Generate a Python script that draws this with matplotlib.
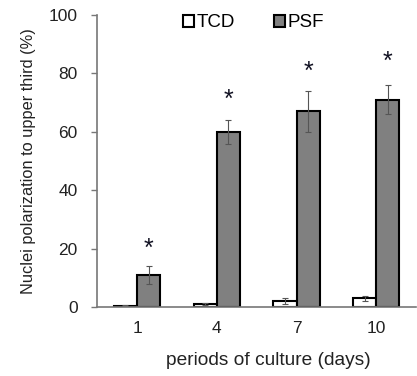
import numpy as np
import matplotlib
matplotlib.use("Agg")
import matplotlib.pyplot as plt

plt.rcParams['font.family'] = ['Liberation Sans', 'DejaVu Sans']

# data
days = ["1", "4", "7", "10"]
tcd = [0.5, 1.0, 2.0, 3.0]
tcd_err = [0.2, 0.4, 1.0, 1.0]
psf = [11, 60, 67, 71]
psf_err = [3, 4, 7, 5]
star_y = [20, 71, 80.5, 84]

fig = plt.figure(figsize=(4.17, 3.76), dpi=100)
ax = fig.add_axes([0.233, 0.183, 0.765, 0.777])

x = np.arange(len(days))
w = 0.29
ax.bar(x - w / 2, tcd, w, yerr=tcd_err, color="white", edgecolor="black",
       linewidth=1.5, label="TCD", ecolor="#555555", capsize=2,
       error_kw={"elinewidth": 0.8, "capthick": 0.8})
ax.bar(x + w / 2, psf, w, yerr=psf_err, color="#808080", edgecolor="black",
       linewidth=1.5, label="PSF", ecolor="#555555", capsize=2,
       error_kw={"elinewidth": 0.8, "capthick": 0.8})

for xi, yi in zip(x, star_y):
    ax.text(xi + w / 2, yi, "*", ha="center", va="center", fontsize=18,
            color="#111122")

ax.set_xlim(-0.5, 3.5)
ax.set_ylim(0, 100)
ax.set_yticks([0, 20, 40, 60, 80, 100])
ax.set_xticks(x)
ax.set_xticklabels(days)
ax.tick_params(axis="x", length=0, labelsize=12.5, colors="#222222", pad=10)
ax.tick_params(axis="y", length=4, width=1, color="#777777", labelsize=12.5,
               labelcolor="#222222", pad=10)
for s in ["top", "right"]:
    ax.spines[s].set_visible(False)
for s in ["left", "bottom"]:
    ax.spines[s].set_color("#777777")
    ax.spines[s].set_linewidth(1.2)

ax.set_ylabel("Nuclei polarization to upper third (%)", fontsize=11.8,
              color="#222222", labelpad=9)
ax.set_xlabel("periods of culture (days)", fontsize=13.8, color="#222222")
ax.xaxis.set_label_coords(0.537, -0.155)

ax.legend(loc="upper center", bbox_to_anchor=(0.49, 1.06), ncol=2,
          frameon=False, fontsize=13.5, handlelength=0.6, handleheight=0.6,
          handletextpad=0.1, columnspacing=2.1)

fig.savefig("out.png", dpi=100)
